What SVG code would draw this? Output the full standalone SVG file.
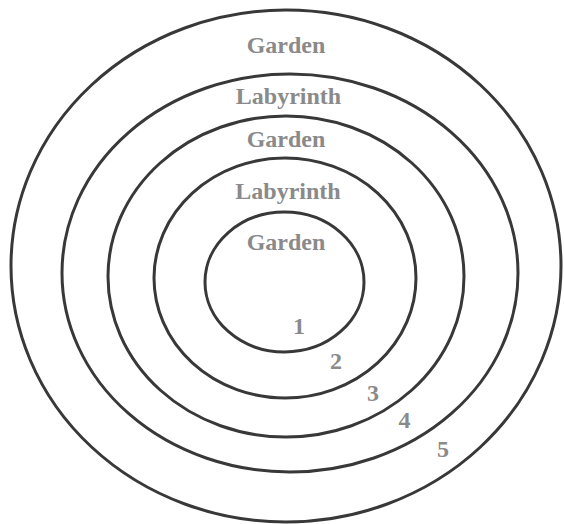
<svg xmlns="http://www.w3.org/2000/svg" width="564" height="524" viewBox="0 0 564 524">
<style>
.ring{fill:none;stroke:#383838;stroke-width:3}
.lbl{font-family:"Liberation Serif","Times New Roman",serif;font-weight:bold;font-size:24px;fill:#8a8a8a;text-anchor:middle}
</style>
<rect width="564" height="524" fill="#ffffff"/>
<g id="rings">
<g id="ring5"><ellipse class="ring" cx="286" cy="266" rx="275" ry="256"/></g>
<g id="ring4"><ellipse class="ring" cx="290" cy="273" rx="228" ry="199"/></g>
<g id="ring3"><ellipse class="ring" cx="286" cy="276.5" rx="178" ry="160.5"/></g>
<g id="ring2"><ellipse class="ring" cx="285" cy="278" rx="131" ry="120"/></g>
<g id="ring1"><ellipse class="ring" cx="284.5" cy="282" rx="79.5" ry="70"/></g>
</g>
<g id="labels">
<text class="lbl" x="286" y="53">Garden</text>
<text class="lbl" x="288.5" y="104">Labyrinth</text>
<text class="lbl" x="286" y="147">Garden</text>
<text class="lbl" x="288" y="199">Labyrinth</text>
<text class="lbl" x="286" y="250">Garden</text>
<text class="lbl" x="299" y="334">1</text>
<text class="lbl" x="336" y="369">2</text>
<text class="lbl" x="373" y="401">3</text>
<text class="lbl" x="404.5" y="428">4</text>
<text class="lbl" x="443" y="457">5</text>
</g>
</svg>
